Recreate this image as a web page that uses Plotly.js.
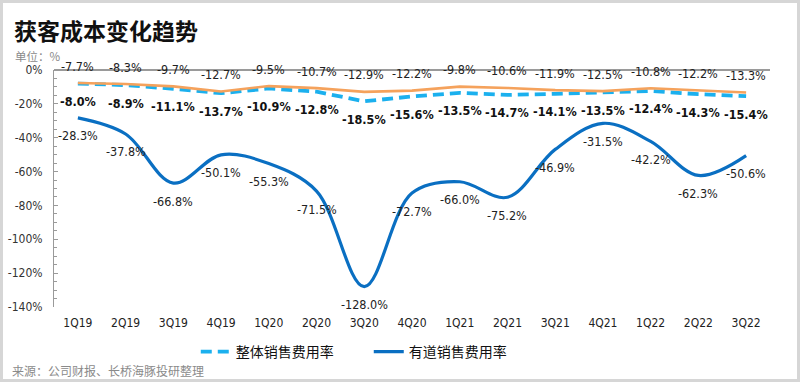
<!DOCTYPE html>
<html>
<head>
<meta charset="utf-8">
<script src="https://cdn.plot.ly/plotly-3.0.1.min.js"></script>
<style>html,body{margin:0;padding:0;background:#fff;}#chart{width:800px;height:382px;}</style>
</head>
<body>
<div id="chart"></div>
<script>
const categories = ['1Q19','2Q19','3Q19','4Q19','1Q20','2Q20','3Q20','4Q20','1Q21','2Q21','3Q21','4Q21','1Q22','2Q22','3Q22'];
const orangeValues = [-7.7,-8.3,-9.7,-12.7,-9.5,-10.7,-12.9,-12.2,-9.8,-10.6,-11.9,-12.5,-10.8,-12.2,-13.3];
const overallValues = [-8.0,-8.9,-11.1,-13.7,-10.9,-12.8,-18.5,-15.6,-13.5,-14.7,-14.1,-13.5,-12.4,-14.3,-15.4];
const youdaoValues = [-28.3,-37.8,-66.8,-50.1,-55.3,-71.5,-128.0,-72.7,-66.0,-75.2,-46.9,-31.5,-42.2,-62.3,-50.6];
const yTickVals = [0,-20,-40,-60,-80,-100,-120,-140];
const yTickLabels = ['0%','-20%','-40%','-60%','-80%','-100%','-120%','-140%'];
const seriesNames = ['整体销售费用率','有道销售费用率'];

const fmt = v => v.toFixed(1) + '%';
const numFont = '"Liberation Sans Narrow", "DejaVu Sans Condensed", "Noto Sans CJK SC", sans-serif';
const cjkFont = '"Noto Sans CJK SC", sans-serif';

const traces = [
  {
    x: categories, y: youdaoValues, name: seriesNames[1], type: 'scatter', mode: 'lines',
    line: {color: '#0A6FC2', width: 3.2, shape: 'spline', smoothing: 1}
  },
  {
    x: categories, y: overallValues, name: seriesNames[0], type: 'scatter', mode: 'lines',
    line: {color: '#1BB0EE', width: 3.8, dash: '11px,6px'}
  },
  {
    x: categories, y: orangeValues, name: 'orange', type: 'scatter', mode: 'lines', showlegend: false,
    line: {color: '#F5A25C', width: 2.6}
  }
];

function labels(vals, shift, bold, color) {
  return vals.map((v, i) => ({
    x: categories[i], y: v, xref: 'x', yref: 'y', showarrow: false,
    text: bold ? '<b>' + fmt(v) + '</b>' : fmt(v),
    yshift: shift, xanchor: 'center', yanchor: 'middle',
    font: {family: numFont, size: 12.5, color: color}
  }));
}

const annotations = [].concat(
  labels(orangeValues, 17, false, '#222'),
  labels(overallValues, -18, true, '#111'),
  labels(youdaoValues, -18, false, '#222'),
  [
    {text: '<b>获客成本变化趋势</b>', xref: 'paper', yref: 'paper', x: -0.058, xanchor: 'left',
      y: 1.0, yanchor: 'middle', yshift: 40, showarrow: false,
      font: {family: cjkFont, size: 23, color: '#111'}},
    {text: '单位：%', xref: 'paper', yref: 'paper', x: -0.057, xanchor: 'left',
      y: 1.0, yanchor: 'middle', yshift: 14, showarrow: false,
      font: {family: cjkFont, size: 11.5, color: '#8a8a8a'}},
    {text: '来源：公司财报、长桥海豚投研整理', xref: 'paper', yref: 'paper', x: -0.061, xanchor: 'left',
      y: 0, yanchor: 'middle', yshift: -63, showarrow: false,
      font: {family: cjkFont, size: 12, color: '#8a8a8a'}}
  ]
);

const layout = {
  width: 800, height: 382,
  margin: {l: 54, r: 30, t: 70, b: 75},
  paper_bgcolor: '#fff', plot_bgcolor: 'rgba(0,0,0,0)',
  showlegend: true,
  legend: {orientation: 'h', x: 0.198, xanchor: 'left', y: -0.19, yanchor: 'middle',
    font: {family: cjkFont, size: 14, color: '#111'}, traceorder: 'reversed',
    entrywidth: 128},
  xaxis: {
    type: 'category', showgrid: false, showline: false, zeroline: false, ticks: '',
    tickfont: {family: numFont, size: 12, color: '#222'}, range: [-0.5, 14.5],
    ticklabelstandoff: 7
  },
  yaxis: {
    range: [-140, 0], tickvals: yTickVals, ticktext: yTickLabels,
    tickfont: {family: numFont, size: 12, color: '#333'},
    showgrid: false, zeroline: true, zerolinecolor: '#9a9a9a', zerolinewidth: 1.2,
    showline: true, linecolor: '#9a9a9a', linewidth: 1,
    ticks: 'inside', ticklen: 4, tickcolor: '#9a9a9a',
    minor: {dtick: 5, ticks: 'inside', ticklen: 3, tickcolor: '#9a9a9a'},
    ticklabelstandoff: 8
  },
  annotations: annotations,
  shapes: [
    {type: 'rect', xref: 'paper', yref: 'paper', x0: -0.0733, x1: 1.0398, y0: -0.310, y1: 1.289,
      line: {color: '#d6d6d6', width: 3}, fillcolor: 'rgba(0,0,0,0)', layer: 'below'}
  ]
};

Plotly.newPlot('chart', traces, layout, {displayModeBar: false, staticPlot: true});
</script>
</body>
</html>
